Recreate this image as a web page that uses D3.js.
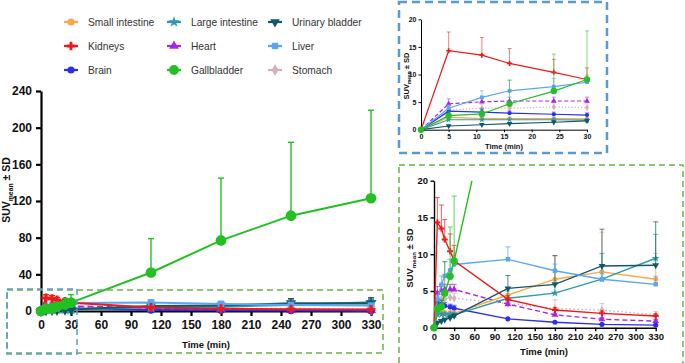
<!DOCTYPE html>
<html>
<head>
<meta charset="utf-8">
<script src="https://cdn.jsdelivr.net/npm/d3@7"></script>
<style>
  body { margin: 0; background: #fff; }
  svg { display: block; font-family: "Liberation Sans", Arial, sans-serif; }
</style>
</head>
<body>
<svg id="chart" width="685" height="363"></svg>
<script>
// ============= Data =============
const times = [0, 5, 11, 16, 24, 30, 110, 180, 250, 330];

const smallIntestineMean = [0, 2.25, 2.0, 2.0, 2.0, 1.95, 4.45, 6.6, 7.6, 6.6];
const smallIntestineSd = [0, 0.3, 0.3, 0.3, 0.3, 0.3, 1.0, 3.2, 5.4, 3.5];
const largeIntestineMean = [0, 1.8, 1.8, 1.8, 1.8, 1.75, 4.0, 4.7, 6.6, 9.45];
const largeIntestineSd = [0, 0.3, 0.3, 0.3, 0.3, 0.3, 1.0, 1.2, 3.5, 3.25];
const urinaryBladderMean = [0, 0.67, 0.9, 1.1, 1.35, 1.6, 5.35, 5.9, 8.4, 8.5];
const urinaryBladderSd = [0, 0.2, 0.2, 0.2, 0.3, 0.3, 1.75, 3.9, 5.0, 5.9];
const kidneysMean = [0, 14.3, 13.5, 12.0, 10.4, 9.1, 3.85, 2.4, 1.95, 1.6];
const kidneysSd = [0, 3.4, 3.2, 2.7, 2.35, 2.1, 0.5, 0.3, 0.3, 0.25];
const heartMean = [0, 4.7, 5.05, 5.2, 5.2, 5.2, 3.2, 1.75, 1.15, 0.9];
const heartSd = [0, 0.9, 0.8, 0.7, 0.7, 0.7, 0.3, 0.2, 0.2, 0.2];
const liverMean = [0, 3.9, 5.85, 7.05, 7.8, 8.6, 9.3, 7.75, 6.6, 5.9];
const liverSd = [0, 0.6, 1.2, 1.9, 1.5, 1.3, 1.7, 0.9, 0.7, 1.1];
const brainMean = [0, 3.35, 3.2, 3.0, 2.8, 2.65, 1.2, 0.75, 0.45, 0.35];
const brainSd = [0, 0.5, 0.5, 0.4, 0.4, 0.4, 0.1, 0.1, 0.1, 0.1];
const gallbladderMean = [0, 2.55, 2.85, 4.7, 7.0, 9.1, 42, 77, 104, 123];
const gallbladderSd = [0, 0.8, 1.0, 4.3, 6.7, 8.8, 37, 68, 80, 96];
const stomachMean = [0, 3.55, 3.9, 3.9, 4.1, 4.0, 3.3, 2.6, 2.4, 1.75];
const stomachSd = [0, 0.7, 0.7, 0.7, 0.7, 0.7, 0.6, 1.2, 0.9, 0.45];

const legendOrder = [
  "Small intestine", "Large intestine", "Urinary bladder",
  "Kidneys", "Heart", "Liver",
  "Brain", "Gallbladder", "Stomach",
];

const mainXTicks = [0, 30, 60, 90, 120, 150, 180, 210, 240, 270, 300, 330];
const mainYTicks = [0, 40, 80, 120, 160, 200, 240];
const zoomXTicks = [0, 5, 10, 15, 20, 25, 30];
const zoomYTicks = [0, 5, 10, 15, 20];

// ============= Series styling =============
const series = [
  { name: "Stomach", mean: stomachMean, sd: stomachSd, color: "#d6b0b8", symbol: d3.symbolDiamond, dash: "1.5,2.5" },
  { name: "Heart", mean: heartMean, sd: heartSd, color: "#a724ea", symbol: d3.symbolTriangle, dash: "5,3" },
  { name: "Brain", mean: brainMean, sd: brainSd, color: "#2b2ef2", symbol: d3.symbolCircle },
  { name: "Small intestine", mean: smallIntestineMean, sd: smallIntestineSd, color: "#f9a748", symbol: d3.symbolCircle },
  { name: "Large intestine", mean: largeIntestineMean, sd: largeIntestineSd, color: "#2f9aaa", symbol: d3.symbolStar },
  { name: "Urinary bladder", mean: urinaryBladderMean, sd: urinaryBladderSd, color: "#135868", symbol: d3.symbolTriangle, flip: true },
  { name: "Liver", mean: liverMean, sd: liverSd, color: "#5ba6f2", symbol: d3.symbolSquare },
  { name: "Kidneys", mean: kidneysMean, sd: kidneysSd, color: "#f01818", symbol: d3.symbolCross },
  { name: "Gallbladder", mean: gallbladderMean, sd: gallbladderSd, color: "#22c022", symbol: d3.symbolCircle, big: true },
];

const svg = d3.select("#chart");
const defs = svg.append("defs");

// ============= Legend =============
const legendCols = [64, 167, 268];
const legendRows = [22, 46, 70];
legendOrder.forEach((name, i) => {
  const s = series.find((d) => d.name === name);
  const x0 = legendCols[i % 3];
  const y0 = legendRows[Math.floor(i / 3)];
  const g = svg.append("g");
  g.append("line")
    .attr("x1", x0).attr("x2", x0 + 14)
    .attr("y1", y0).attr("y2", y0)
    .attr("stroke", s.color).attr("stroke-width", 2.2);
  g.append("path")
    .attr("d", d3.symbol(s.symbol, s.big ? 75 : 40)())
    .attr("transform", `translate(${x0 + 7},${y0})${s.flip ? " rotate(180)" : ""}`)
    .attr("fill", s.color);
  g.append("text")
    .attr("x", x0 + 24).attr("y", y0 + 3.5)
    .attr("font-size", 10.2).attr("fill", "#333")
    .text(name);
});

// ============= Panels =============
const drawYLabel = (x, cy, size) => {
  const t = svg.append("text")
    .attr("transform", `translate(${x},${cy}) rotate(-90)`)
    .attr("text-anchor", "middle")
    .attr("font-size", size).attr("font-weight", "bold").attr("fill", "#111");
  t.append("tspan").text("SUV");
  t.append("tspan").attr("font-size", size * 0.65).attr("dy", size * 0.3).text("mean");
  t.append("tspan").attr("dy", -size * 0.3).text(" \u00b1 SD");
};

function drawPanel(cfg) {
  const x = d3.scaleLinear().domain(cfg.xDomain).range(cfg.xRange);
  const y = d3.scaleLinear().domain(cfg.yDomain).range(cfg.yRange);
  const g = svg.append("g");

  // Axes
  const xAxis = g.append("g")
    .attr("transform", `translate(0,${cfg.yRange[0]})`)
    .call(d3.axisBottom(x).tickValues(cfg.xTicks).tickFormat(d3.format("d"))
      .tickSize(cfg.tick).tickSizeOuter(0).tickPadding(cfg.pad));
  const yAxis = g.append("g")
    .attr("transform", `translate(${cfg.xRange[0]},0)`)
    .call(d3.axisLeft(y).tickValues(cfg.yTicks).tickFormat(d3.format("d"))
      .tickSize(cfg.tick).tickSizeOuter(0).tickPadding(cfg.pad));
  [xAxis, yAxis].forEach((axis) => {
    axis.selectAll("path, line").attr("stroke", "#000").attr("stroke-width", cfg.axisW);
    axis.selectAll("text")
      .attr("font-size", cfg.tickFont).attr("font-weight", "bold")
      .attr("font-family", "Liberation Sans, Arial, sans-serif").attr("fill", "#111");
  });

  g.append("text")
    .attr("x", cfg.titleX).attr("y", cfg.titleY)
    .attr("text-anchor", "middle")
    .attr("font-size", cfg.titleFont).attr("font-weight", "bold").attr("fill", "#111")
    .text("Time (min)");
  drawYLabel(cfg.ylabX, cfg.ylabY, cfg.ylabFont);

  // Clip at the top of the y range
  const clipId = "clip-" + cfg.id;
  defs.append("clipPath").attr("id", clipId).append("rect")
    .attr("x", cfg.xRange[0] - 8).attr("y", cfg.yRange[1])
    .attr("width", cfg.xRange[1] - cfg.xRange[0] + 16)
    .attr("height", cfg.yRange[0] - cfg.yRange[1] + 8);
  const plot = g.append("g").attr("clip-path", `url(#${clipId})`);

  const idx = times.map((t, i) => i).filter((i) => times[i] <= cfg.xDomain[1]);

  series.forEach((s) => {
    const path = d3.line().x((i) => x(times[i])).y((i) => y(s.mean[i]));
    // error bars (upper only)
    idx.filter((i) => s.sd[i] > 0).forEach((i) => {
      const px = x(times[i]);
      const top = y(s.mean[i] + s.sd[i]);
      plot.append("line")
        .attr("x1", px).attr("x2", px)
        .attr("y1", y(s.mean[i])).attr("y2", top)
        .attr("stroke", s.color).attr("stroke-width", cfg.errW)
        .attr("opacity", cfg.errOpacity);
      plot.append("line")
        .attr("x1", px - cfg.cap).attr("x2", px + cfg.cap)
        .attr("y1", top).attr("y2", top)
        .attr("stroke", s.color).attr("stroke-width", cfg.errW)
        .attr("opacity", cfg.errOpacity);
    });
    plot.append("path")
      .attr("d", path(idx))
      .attr("fill", "none")
      .attr("stroke", s.color)
      .attr("stroke-width", cfg.lineW)
      .attr("stroke-dasharray", s.dash ? s.dash.split(",").map((v) => v * cfg.dashScale).join(",") : null);
    const sym = d3.symbol(s.symbol, s.big ? cfg.bigSize : cfg.markSize);
    idx.forEach((i) => {
      plot.append("path")
        .attr("d", sym())
        .attr("transform", `translate(${x(times[i])},${y(s.mean[i])})${s.flip ? " rotate(180)" : ""}`)
        .attr("fill", s.color);
    });
  });
}

// Main chart
drawPanel({
  id: "main",
  xDomain: [0, 330], xRange: [41, 371],
  yDomain: [0, 240], yRange: [311, 91],
  xTicks: mainXTicks, yTicks: mainYTicks,
  tick: 5, pad: 4, axisW: 2.2, tickFont: 12,
  titleX: 206, titleY: 348, titleFont: 9.5,
  ylabX: 10, ylabY: 190, ylabFont: 10.5,
  lineW: 2, errW: 1.4, errOpacity: 1, cap: 3,
  markSize: 45, bigSize: 90, dashScale: 1.2,
});

// Top-right inset (0-30 min)
drawPanel({
  id: "top",
  xDomain: [0, 30], xRange: [421, 587],
  yDomain: [0, 20], yRange: [129.7, 19.3],
  xTicks: zoomXTicks, yTicks: zoomYTicks,
  tick: 2.5, pad: 2, axisW: 1, tickFont: 7,
  titleX: 504, titleY: 149, titleFont: 7.5,
  ylabX: 409, ylabY: 76, ylabFont: 7.5,
  lineW: 1.2, errW: 0.9, errOpacity: 0.6, cap: 2,
  markSize: 14, bigSize: 32, dashScale: 0.8,
});

// Bottom-right inset (0-330 min, zoomed y)
drawPanel({
  id: "bottom",
  xDomain: [0, 330], xRange: [434, 655.7],
  yDomain: [0, 20], yRange: [327.7, 180.7],
  xTicks: mainXTicks, yTicks: zoomYTicks,
  tick: 3.5, pad: 2.5, axisW: 1.4, tickFont: 9.5,
  titleX: 544, titleY: 355, titleFont: 9.5,
  ylabX: 413, ylabY: 258, ylabFont: 9.5,
  lineW: 1.4, errW: 1, errOpacity: 0.7, cap: 2.5,
  markSize: 20, bigSize: 42, dashScale: 1,
});

// ============= Dashed callout boxes =============
const box = (x, y, w, h, color, width, dash) => {
  svg.append("rect")
    .attr("x", x).attr("y", y).attr("width", w).attr("height", h)
    .attr("fill", "none").attr("stroke", color)
    .attr("stroke-width", width).attr("stroke-dasharray", dash);
};
box(7, 290, 376, 63, "#6cb446", 1.5, "6,4");
box(7, 289, 70, 65, "#5b9bd5", 1.5, "6,4");
box(399, 2, 208, 151, "#5b9bd5", 2.5, "8,5");
box(399, 165, 284, 200, "#6cb446", 1.5, "6,4");
</script>
</body>
</html>
